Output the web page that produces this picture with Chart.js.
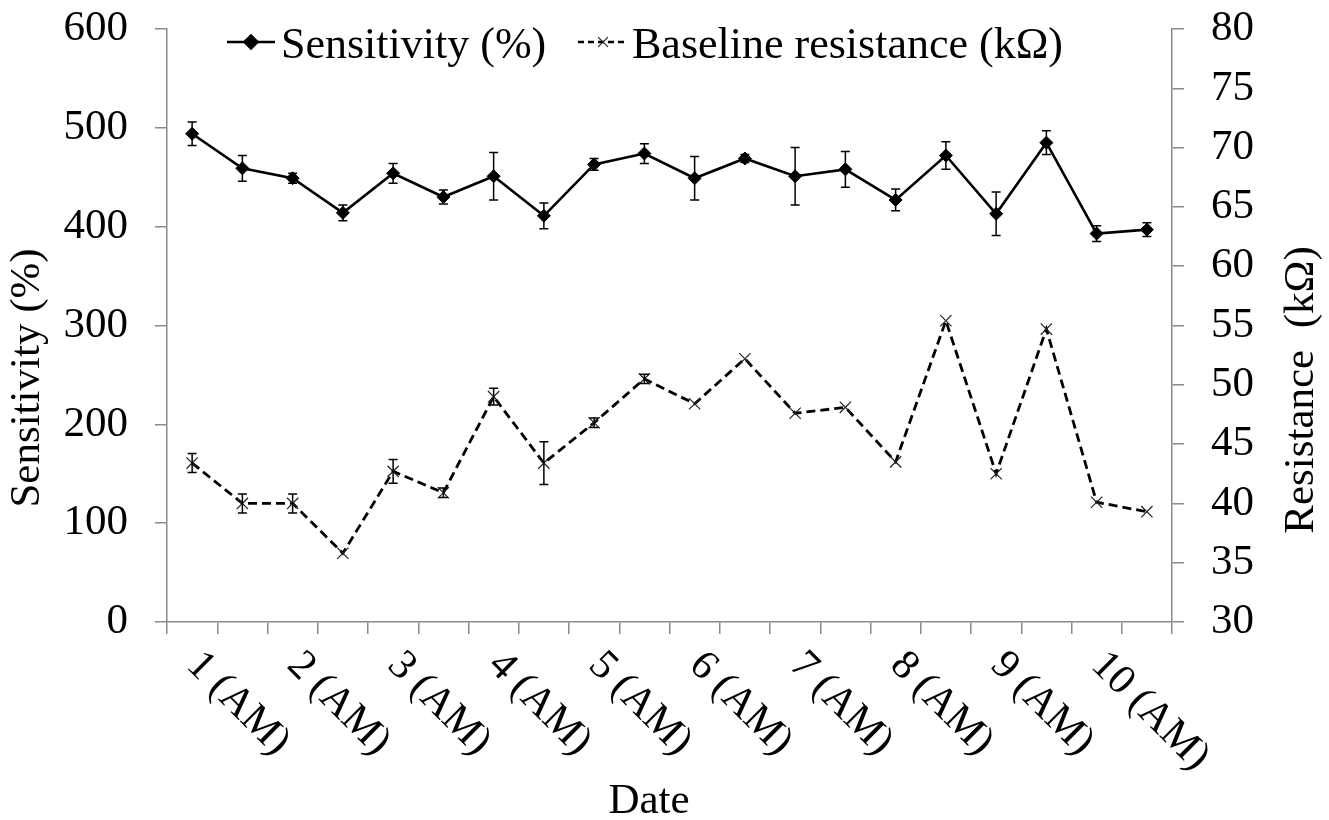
<!DOCTYPE html>
<html>
<head>
<meta charset="utf-8">
<script src="https://cdn.jsdelivr.net/npm/chart.js@4.4.0/dist/chart.umd.min.js"></script>
<style>
  html, body { margin: 0; padding: 0; background: #fff; }
  #wrap { width: 1329px; height: 820px; }
</style>
</head>
<body>
<div id="wrap"><canvas id="c" width="1329" height="820"></canvas></div>
<script>
// Day labels shown under the axis (one per day, morning reading)
const dateLabels = ['1 (AM)', '2 (AM)', '3 (AM)', '4 (AM)', '5 (AM)',
                    '6 (AM)', '7 (AM)', '8 (AM)', '9 (AM)', '10 (AM)'];
// Two readings per day; only the first of each pair carries a label
const categories = [];
dateLabels.forEach(d => { categories.push(d); categories.push(''); });

const sensitivity    = [494, 459, 449, 414, 454, 430, 451, 411, 463, 474,
                        449, 469, 451, 458, 427, 472, 413, 485, 393, 397];
const sensitivityErr = [12, 13, 5, 8, 10, 7, 24, 13, 6, 10,
                        22, 4, 29, 18, 11, 14, 22, 12, 8, 7];
const resistance     = [43.4, 40.0, 40.0, 35.8, 42.7, 40.9, 49.0, 43.4, 46.8, 50.5,
                        48.4, 52.2, 47.6, 48.1, 43.5, 55.4, 42.5, 54.7, 40.1, 39.3];
const resistanceErr  = [0.8, 0.8, 0.8, 0, 1.0, 0.4, 0.7, 1.8, 0.4, 0.4,
                        0, 0, 0, 0, 0, 0, 0, 0, 0, 0];

const leftTicks  = { min: 0, max: 600, step: 100 };
const rightTicks = { min: 30, max: 80, step: 5 };

const FONT = '"Liberation Serif", "Times New Roman", serif';
const AXIS = '#8a8a8a';

// Vertical error bars with caps
const errorBars = {
  id: 'errorBars',
  afterDatasetsDraw(chart) {
    const ctx = chart.ctx;
    const sets = [[0, sensitivity, sensitivityErr, 'y'], [1, resistance, resistanceErr, 'y1']];
    ctx.save();
    ctx.strokeStyle = '#000';
    ctx.lineWidth = 1.5;
    sets.forEach(([idx, vals, errs, axis]) => {
      const meta = chart.getDatasetMeta(idx);
      const ys = chart.scales[axis];
      vals.forEach((v, j) => {
        const e = errs[j];
        if (!e) return;
        const x = meta.data[j].x;
        const yt = ys.getPixelForValue(v + e);
        const yb = ys.getPixelForValue(v - e);
        ctx.beginPath();
        ctx.moveTo(x, yt); ctx.lineTo(x, yb);
        ctx.moveTo(x - 4.5, yt); ctx.lineTo(x + 4.5, yt);
        ctx.moveTo(x - 4.5, yb); ctx.lineTo(x + 4.5, yb);
        ctx.stroke();
      });
    });
    ctx.restore();
  }
};

// Rotated date labels, axis titles and the legend
const decorations = {
  id: 'decorations',
  afterDraw(chart) {
    const ctx = chart.ctx;
    const xs = chart.scales.x;
    ctx.save();
    ctx.fillStyle = '#000';

    // date labels, slanted downward
    ctx.font = '42px ' + FONT;
    ctx.textAlign = 'left';
    ctx.textBaseline = 'middle';
    categories.forEach((c, i) => {
      if (!c) return;
      const x = xs.getPixelForValue(i);
      ctx.save();
      ctx.translate(x + 1, 659);
      ctx.rotate(Math.PI / 4);
      ctx.fillText(c, 0, 0);
      ctx.restore();
    });

    // axis titles
    ctx.font = '43px ' + FONT;
    ctx.textAlign = 'center';
    ctx.textBaseline = 'alphabetic';
    ctx.fillText('Date', 649, 813);

    ctx.textBaseline = 'middle';
    ctx.save();
    ctx.translate(27.5, 378);
    ctx.rotate(-Math.PI / 2);
    ctx.fillText('Sensitivity (%)', 0, 0);
    ctx.restore();

    ctx.save();
    ctx.translate(1302, 390);
    ctx.rotate(-Math.PI / 2);
    ctx.fillText('Resistance  (k\u03A9)', 0, 0);
    ctx.restore();

    // legend
    const ly = 42;
    ctx.strokeStyle = '#000';
    ctx.lineWidth = 2.5;
    ctx.beginPath(); ctx.moveTo(227, ly); ctx.lineTo(275, ly); ctx.stroke();
    Chart.helpers.drawPoint(ctx, { pointStyle: 'rectRot', radius: 6.5, borderWidth: 1 }, 251, ly);
    ctx.fillStyle = '#000';
    ctx.fill();

    ctx.setLineDash([6, 4]);
    ctx.lineWidth = 2.5;
    ctx.beginPath(); ctx.moveTo(578, ly); ctx.lineTo(628, ly); ctx.stroke();
    ctx.setLineDash([]);
    ctx.strokeStyle = '#222';
    ctx.lineWidth = 1.2;
    Chart.helpers.drawPoint(ctx, { pointStyle: 'crossRot', radius: 7, borderWidth: 1.2 }, 603, ly);

    ctx.fillStyle = '#000';
    ctx.font = '44px ' + FONT;
    ctx.textAlign = 'left';
    ctx.textBaseline = 'alphabetic';
    ctx.fillText('Sensitivity (%)', 281, 58);
    ctx.fillText('Baseline resistance (k\u03A9)', 632, 58);
    ctx.restore();
  }
};

// Value axes keep a fixed width and add no extra top/bottom room
function fixVertical(width) {
  return function (s) {
    s.width = width;
    s.paddingTop = 0;
    s.paddingBottom = 0;
  };
}

new Chart(document.getElementById('c'), {
  type: 'line',
  data: {
    labels: categories,
    datasets: [
      {
        label: 'Sensitivity (%)',
        data: sensitivity,
        yAxisID: 'y',
        borderColor: '#000',
        borderWidth: 2.6,
        pointStyle: 'rectRot',
        pointRadius: 6.5,
        pointBackgroundColor: '#000',
        pointBorderColor: '#000',
        pointBorderWidth: 1,
        tension: 0
      },
      {
        label: 'Baseline resistance (k\u03A9)',
        data: resistance,
        yAxisID: 'y1',
        borderColor: '#000',
        borderWidth: 2.8,
        borderDash: [9, 5],
        pointStyle: 'crossRot',
        pointRadius: 8,
        pointBorderColor: '#222',
        pointBorderWidth: 1.2,
        tension: 0
      }
    ]
  },
  options: {
    responsive: false,
    animation: false,
    layout: { padding: { top: 29, left: 0, right: 0, bottom: 0 } },
    plugins: { legend: { display: false }, tooltip: { enabled: false } },
    scales: {
      x: {
        type: 'category',
        offset: true,
        grid: { offset: true, drawOnChartArea: false, color: AXIS, lineWidth: 1.5, tickLength: 12 },
        border: { color: AXIS, width: 1.5 },
        ticks: { display: false },
        afterFit(s) { s.height = 198; s.paddingLeft = 0; s.paddingRight = 0; }
      },
      y: {
        position: 'left',
        min: leftTicks.min, max: leftTicks.max,
        ticks: { stepSize: leftTicks.step, padding: 27, color: '#000', font: { family: FONT, size: 43 } },
        grid: { drawOnChartArea: false, color: AXIS, lineWidth: 1.5, tickLength: 12 },
        border: { color: AXIS, width: 1.5 },
        afterFit: fixVertical(167)
      },
      y1: {
        position: 'right',
        min: rightTicks.min, max: rightTicks.max,
        ticks: { stepSize: rightTicks.step, padding: 27, color: '#000', font: { family: FONT, size: 43 } },
        grid: { drawOnChartArea: false, color: AXIS, lineWidth: 1.5, tickLength: 12 },
        border: { color: AXIS, width: 1.5 },
        afterFit: fixVertical(157)
      }
    }
  },
  plugins: [errorBars, decorations]
});
</script>
</body>
</html>
